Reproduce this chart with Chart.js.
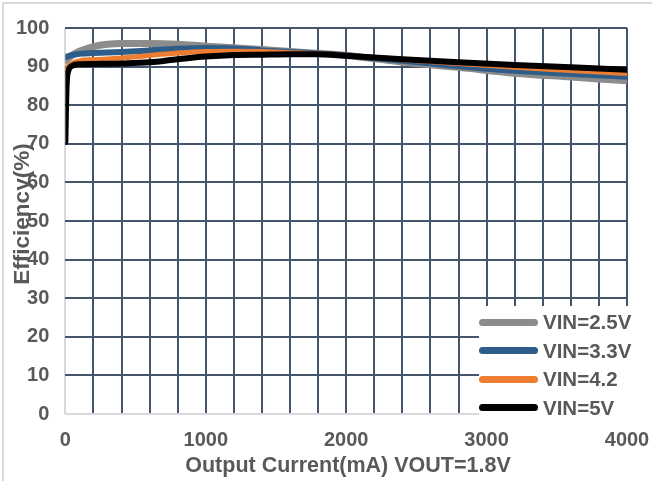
<!DOCTYPE html>
<html>
<head>
<meta charset="utf-8">
<script src="https://cdn.jsdelivr.net/npm/chart.js@4.4.1/dist/chart.umd.min.js"></script>
<style>
  body { margin:0; background:#fff; }
  #wrap { position:relative; width:652px; height:481px; background:#fff; overflow:hidden; font-family:"Liberation Sans", Arial, sans-serif; }
  #frame { position:absolute; left:2px; top:2px; width:700px; height:600px; border-top:2px solid #d9d9d9; border-left:2px solid #d9d9d9; pointer-events:none; }
  #c { position:absolute; left:0; top:0; }
  #ytitle { position:absolute; left:22px; top:214px; transform:translate(-50%,-50%) rotate(-90deg); font-weight:bold; font-size:22.5px; color:#595959; white-space:nowrap; }
  #xtitle { position:absolute; left:348px; top:465px; transform:translate(-50%,-50%); font-weight:bold; font-size:21.5px; color:#595959; white-space:nowrap; }
  #legend { position:absolute; left:479px; top:306px; width:173px; height:116px; background:#fff; }
  .row { position:absolute; left:0; height:28px; display:flex; align-items:center; }
  .sw { width:59px; height:7px; border-radius:4px; margin-right:5px; }
  .lt { font-weight:bold; font-size:20.5px; color:#595959; white-space:nowrap; }
</style>
</head>
<body>
<div id="wrap">
  <canvas id="c" width="652" height="481"></canvas>
  <div id="frame"></div>
  <div id="ytitle">Efficiency(%)</div>
  <div id="xtitle">Output Current(mA) VOUT=1.8V</div>
  <div id="legend"></div>
</div>
<script>
// ---- data ----
const seriesLabels = ["VIN=2.5V", "VIN=3.3V", "VIN=4.2", "VIN=5V"];
const seriesColors = ["#8c8c8c", "#2e5d8a", "#ed7d31", "#000000"];

const current25 = [0, 50, 100, 200, 300, 400, 600, 800, 1000, 1200, 1400, 1600, 1800, 2000, 2400, 2800, 3200, 3600, 4000];
const eff25     = [91.5, 93.0, 94.0, 95.2, 95.8, 96.0, 96.0, 95.8, 95.3, 94.9, 94.4, 93.9, 93.4, 92.9, 91.2, 89.8, 88.3, 87.3, 86.3];

const current33 = [0, 50, 100, 200, 400, 600, 800, 1000, 1200, 1400, 1600, 1800, 2000, 2400, 2800, 3200, 3600, 4000];
const eff33     = [92.5, 93.0, 93.3, 93.5, 93.8, 94.2, 94.6, 94.8, 94.7, 94.2, 93.8, 93.4, 92.9, 91.5, 90.1, 88.9, 88.1, 87.4];

const current42 = [0, 30, 100, 200, 400, 600, 800, 1000, 1200, 1400, 1600, 1800, 2000, 2400, 2800, 3200, 3600, 4000];
const eff42     = [89.0, 90.5, 91.5, 91.8, 92.2, 92.9, 93.5, 93.9, 94.0, 93.9, 93.6, 93.3, 92.9, 91.8, 90.8, 89.8, 89.0, 88.2];

const current50 = [0, 5, 10, 20, 50, 100, 200, 400, 600, 800, 1000, 1200, 1400, 1600, 1800, 2000, 2400, 2800, 3200, 3600, 4000];
const eff50     = [70.5, 80.0, 86.0, 88.8, 90.2, 90.6, 90.7, 90.8, 91.1, 91.9, 92.6, 93.0, 93.1, 93.2, 93.2, 92.8, 91.9, 91.1, 90.4, 89.8, 89.2];

const xTickLabels = [0, 1000, 2000, 3000, 4000];
const yTickLabels = [0, 10, 20, 30, 40, 50, 60, 70, 80, 90, 100];

const seriesX = [current25, current33, current42, current50];
const seriesY = [eff25, eff33, eff42, eff50];
const lineWidths = [7, 6, 5, 6];

const datasets = seriesLabels.map((lab, i) => ({
  label: lab,
  data: seriesX[i].map((x, j) => ({ x: x, y: seriesY[i][j] })),
  borderColor: seriesColors[i],
  backgroundColor: seriesColors[i],
  borderWidth: lineWidths[i],
  pointRadius: 0,
  cubicInterpolationMode: 'monotone',
  borderCapStyle: 'round',
  borderJoinStyle: 'round',
  fill: false,
  order: 4 - i
}));

const gridColor = '#44546a';
const axisColor = '#d9d9d9';
const textColor = '#595959';
const tickFont = { family: '"Liberation Sans", Arial, sans-serif', size: 20, weight: 'bold' };

new Chart(document.getElementById('c'), {
  type: 'line',
  data: { datasets },
  options: {
    responsive: false,
    animation: false,
    devicePixelRatio: 1,
    layout: { padding: { left: 0, right: 25, top: 20, bottom: 15 } },
    plugins: { legend: { display: false }, tooltip: { enabled: false } },
    scales: {
      x: {
        type: 'linear', min: 0, max: 4000,
        afterBuildTicks: (s) => { s.ticks = []; for (let v = 0; v <= 4000; v += 200) s.ticks.push({ value: v }); },
        afterFit: (s) => { s.paddingRight = 0; },
        ticks: {
          autoSkip: false, maxRotation: 0, padding: 14, color: textColor, font: tickFont,
          callback: (v) => xTickLabels.includes(v) ? String(v) : ''
        },
        grid: {
          drawTicks: false, lineWidth: 2,
          color: (ctx) => (ctx.tick && ctx.tick.value === 0) ? axisColor : gridColor
        },
        border: { display: false }
      },
      y: {
        min: 0, max: 100,
        afterBuildTicks: (s) => { s.ticks = yTickLabels.map(v => ({ value: v })); },
        ticks: { padding: 16, color: textColor, font: tickFont },
        grid: {
          drawTicks: false, lineWidth: 2,
          color: (ctx) => (ctx.tick && ctx.tick.value === 0) ? axisColor : gridColor
        },
        border: { display: false }
      }
    }
  }
});

// HTML legend built from series arrays
const leg = document.getElementById('legend');
seriesLabels.forEach((lab, i) => {
  const row = document.createElement('div');
  row.className = 'row';
  row.style.top = (2 + i * 28.5) + 'px';
  const sw = document.createElement('div');
  sw.className = 'sw';
  sw.style.background = seriesColors[i];
  const t = document.createElement('span');
  t.className = 'lt';
  t.textContent = lab;
  row.appendChild(sw); row.appendChild(t);
  leg.appendChild(row);
});
</script>
</body>
</html>
